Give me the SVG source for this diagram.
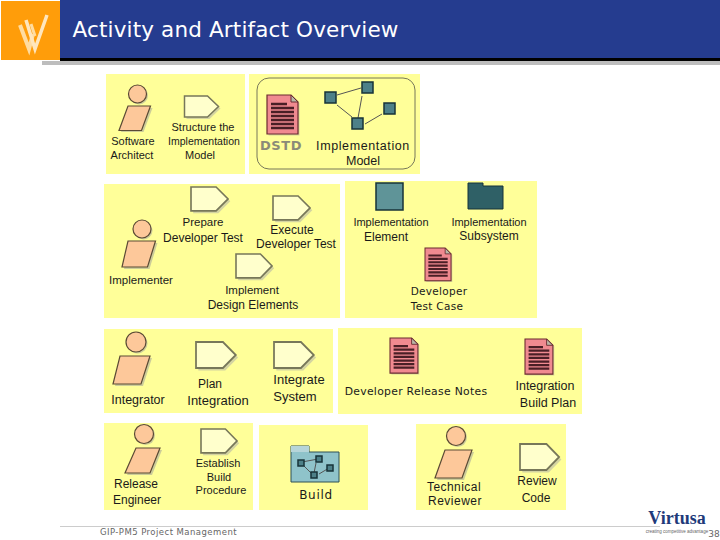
<svg xmlns="http://www.w3.org/2000/svg" width="720" height="540" viewBox="0 0 720 540">
<style>
.p{fill:#ffff99}
text{font-family:"Liberation Sans",Arial,sans-serif;font-size:11px;fill:#1a1a1a;text-anchor:middle}
.s{font-family:"DejaVu Sans",sans-serif;letter-spacing:.3px}
.e{fill:#4d8088;stroke:#173338;stroke-width:1.5}
.l{stroke:#555;stroke-width:1;fill:none}
.h{fill:#fdc89a;stroke:#5b4a35;stroke-width:1.2}
.b{fill:#fdc89a;stroke:#5b4a35;stroke-width:1.2}
.sh{fill:#999;opacity:.5}
</style>
<defs>
<g id="activity">
<path d="M2 2H25L36 12.500L25 23H2Z" fill="#aaa" opacity=".5"/>
<path d="M0 0H23L34 10.500L23 21H0Z" fill="#ffffcc" stroke="#77775a" stroke-width="1.500"/>
</g>
<g id="doc">
<path d="M1.500 1.500H25L32.500 8V40.500H1.500Z" fill="#999" opacity=".4"/>
<path d="M0 0H24L31 7V39H0Z" fill="#f08a90" stroke="#6b2a30" stroke-width="1.200"/>
<path d="M24 0V7H31Z" fill="#b8b8a8" stroke="#6b2a30"/>
<path d="M4 9H20M4 13H27M4 17H27M4 21H27M4 25H27M4 29H27M4 33H27" stroke="#4a1f26" stroke-width="2.500"/>
</g>
</defs>
<rect width="720" height="540" fill="#fff"/>
<g id="header">
<rect x="42" y="61" width="678" height="4" fill="#bdbdbd"/>
<rect x="60" y="0" width="660" height="59" fill="#253c8f"/>
<rect x="60" y="58" width="660" height="3" fill="#000"/>
<rect x="1" y="1" width="59" height="59" fill="#ff9d0a"/>
<path d="M20 25L29 49L33 34" fill="none" stroke="#ffdca0" stroke-width="4"/>
<path d="M26 20L35 49L47 15" fill="none" stroke="#ffe6bd" stroke-width="3.500"/>
<path d="M31 24L35 36" fill="none" stroke="#ffdca0" stroke-width="3"/>
<text x="235.500" y="37" style="font-family:'DejaVu Sans',sans-serif;font-size:21.500px;fill:#fff;letter-spacing:.15px">Activity and Artifact Overview</text>
</g>
<g id="panels">
<rect class="p" x="106" y="74" width="139" height="100"/>
<rect class="p" x="249" y="74" width="171" height="100"/>
<rect class="p" x="104" y="184" width="236" height="134"/>
<rect class="p" x="345" y="181" width="192" height="137"/>
<rect class="p" x="104" y="329" width="229" height="84"/>
<rect class="p" x="338" y="328" width="244" height="86"/>
<rect class="p" x="104" y="423" width="149" height="87"/>
<rect class="p" x="259" y="425" width="109" height="85"/>
<rect class="p" x="416" y="424" width="150" height="86"/>
</g>
<g id="connectors">
<rect x="257" y="78" width="158" height="91" rx="12" fill="none" stroke="#77775a"/>
<path class="l" d="M337 95L361 88M362 96L358 118M337 105L352 117M365 124L382 114"/>
</g>
<g id="software-architect">
<circle class="sh" cx="139" cy="95.500" r="9"/><circle class="h" cx="137.500" cy="94" r="9"/>
<path class="sh" d="M130 108H152.500L143.500 132H121Z"/><path class="b" d="M128 106H150.500L141.500 130.500H119Z"/>
<text x="133" y="145">Software</text><text x="132" y="159">Architect</text></g>
<g id="structure"><use href="#activity" x="184.500" y="96"/><text x="203" y="131">Structure the</text><text x="204" y="145" style="font-size:10.500px">Implementation</text><text x="200" y="159">Model</text></g>
<g id="dstd"><use href="#doc" x="267" y="95"/><text x="281" y="150" style="font-family:'DejaVu Sans',sans-serif;font-weight:bold;font-size:13px;fill:#8b8b78;letter-spacing:.6px">DSTD</text></g>
<g id="implementation-model">
<rect class="e" x="325" y="92" width="11" height="11"/><rect class="e" x="362" y="82" width="11" height="11"/><rect class="e" x="352" y="118" width="11" height="11"/><rect class="e" x="384" y="103" width="11" height="11"/>
<text x="363" y="150" style="font-size:12.500px;letter-spacing:.6px">Implementation</text><text x="363" y="165" style="font-size:12.500px">Model</text></g>
<g id="implementer">
<circle class="sh" cx="143.500" cy="230.500" r="9"/><circle class="h" cx="142" cy="229" r="9"/>
<path class="sh" d="M130 243H157.500L149.500 269H124Z"/><path class="b" d="M128 241H155.500L147.500 267H122Z"/>
<text x="141" y="284" style="font-size:11.500px">Implementer</text></g>
<g id="prepare"><use href="#activity" transform="translate(191 187) scale(1.090 1.140)"/><text x="203" y="226" style="font-size:11.500px">Prepare</text><text x="203" y="242" style="font-size:12px">Developer Test</text></g>
<g id="execute"><use href="#activity" transform="translate(273 196) scale(1.090 1.140)"/><text x="292" y="234" style="font-size:12px">Execute</text><text x="296" y="248" style="font-size:12px">Developer Test</text></g>
<g id="implement"><use href="#activity" transform="translate(236 254) scale(1.060 1.140)"/><text x="252" y="294" style="font-size:11.500px">Implement</text><text x="253" y="309" style="font-size:12px">Design Elements</text></g>
<g id="implementation-element"><rect x="376" y="183" width="27" height="27" fill="#5f9498" stroke="#173338" stroke-width="1.500"/><text x="391" y="226">Implementation</text><text x="386" y="241" style="font-size:12px">Element</text></g>
<g id="implementation-subsystem"><path d="M468 183H483V186H503V209H468Z" fill="#2f6066" stroke="#173338"/><text x="489" y="226">Implementation</text><text x="489" y="240" style="font-size:12px">Subsystem</text></g>
<g id="developer-test-case"><use href="#doc" transform="translate(425 248) scale(.84)"/><text x="439" y="295" class="s" style="font-size:10.500px">Developer</text><text x="437" y="310" class="s" style="font-size:10.500px">Test Case</text></g>
<g id="integrator">
<circle class="sh" cx="137.500" cy="343.500" r="10"/><circle class="h" cx="136" cy="342" r="10"/>
<path class="sh" d="M122 358H152L143 386H115Z"/><path class="b" d="M120 356H150L141 384H113Z"/>
<text x="138" y="404" style="font-size:12.500px">Integrator</text></g>
<g id="plan-integration"><use href="#activity" transform="translate(196 342) scale(1.170 1.240)"/><text x="210" y="388" style="font-size:12px">Plan</text><text x="218" y="405" style="font-size:13px">Integration</text></g>
<g id="integrate-system"><use href="#activity" transform="translate(274 342) scale(1.170 1.240)"/><text x="299" y="384" style="font-size:13px">Integrate</text><text x="295" y="401" style="font-size:13px">System</text></g>
<g id="developer-release-notes"><use href="#doc" transform="translate(390 338) scale(.9)"/><text x="416" y="395" class="s" style="font-size:10.800px">Developer Release Notes</text></g>
<g id="integration-build-plan"><use href="#doc" transform="translate(525 339) scale(.9)"/><text x="545" y="390" style="font-size:12.500px">Integration</text><text x="548" y="407" style="font-size:12.500px">Build Plan</text></g>
<g id="release-engineer">
<circle class="sh" cx="145.500" cy="435.500" r="9.500"/><circle class="h" cx="144" cy="434" r="9.500"/>
<path class="sh" d="M138 450H162L152 475H127Z"/><path class="b" d="M136 448H160L150 473H125Z"/>
<text x="136" y="488" style="font-size:12px">Release</text><text x="137" y="504" style="font-size:12px">Engineer</text></g>
<g id="establish"><use href="#activity" transform="translate(201 429) scale(1.060 1.140)"/><text x="218" y="467">Establish</text><text x="219" y="481">Build</text><text x="221" y="494">Procedure</text></g>
<g id="build">
<path d="M291 446H309V452H339V482H291Z" fill="#8fc3ca" stroke="#2f5057"/>
<rect x="291" y="446" width="18" height="6" fill="#b6d5d9"/>
<path class="l" d="M302 462L318 459M316 463L314 473M302 464L313 475M319 474L329 468"/>
<rect class="e" x="298" y="460" width="6" height="6"/><rect class="e" x="316" y="456" width="6" height="6"/><rect class="e" x="311" y="472" width="6" height="6"/><rect class="e" x="327" y="465" width="6" height="6"/>
<text x="316" y="499" class="s" style="font-size:12px;letter-spacing:.7px">Build</text></g>
<g id="technical-reviewer">
<circle class="sh" cx="457.500" cy="437.500" r="9.500"/><circle class="h" cx="456" cy="436" r="9.500"/>
<path class="sh" d="M447 452H474L464 480H437Z"/><path class="b" d="M445 450H472L462 478H435Z"/>
<text x="454" y="491" style="font-size:12px;letter-spacing:.45px">Technical</text><text x="455" y="505" style="font-size:12px;letter-spacing:.5px">Reviewer</text></g>
<g id="review-code"><use href="#activity" transform="translate(520 444) scale(1.150 1.240)"/><text x="537" y="485" style="font-size:12px">Review</text><text x="536" y="502" style="font-size:12px">Code</text></g>
<g id="footer">
<path d="M60 526.500H660" stroke="#ccc"/>
<text x="168.500" y="535" style="font-family:'DejaVu Sans',sans-serif;font-size:8.500px;fill:#666;letter-spacing:.45px">GIP-PM5 Project Management</text>
<text x="677" y="524" style="font-family:'Liberation Serif',serif;font-weight:bold;font-size:18px;fill:#1f3a7a">Virtusa</text>
<text x="677" y="533" style="font-size:4.500px;fill:#666">creating competitive advantage</text>
<text x="714" y="537" style="font-family:'DejaVu Sans',sans-serif;font-size:9px;fill:#666">38</text>
</g>
</svg>
